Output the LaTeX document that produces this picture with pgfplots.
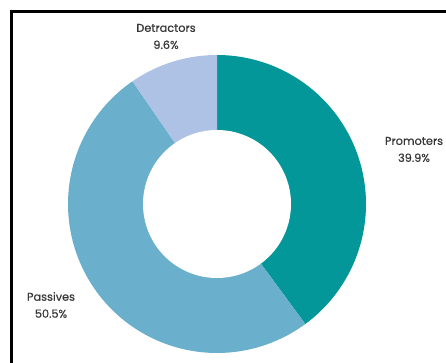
\documentclass[border=0pt]{standalone}
\usepackage{fontspec}
\setmainfont{Poppins}
\newfontfamily\lblfont{Poppins}[FakeBold=0.5]
\usepackage{pgfplots}
\pgfplotsset{compat=1.18}
\definecolor{prom}{RGB}{3,151,153}
\definecolor{pass}{RGB}{106,175,203}
\definecolor{detr}{RGB}{174,194,230}
\definecolor{lbl}{RGB}{55,55,55}
\begin{document}
\begin{tikzpicture}
\useasboundingbox (0,0) rectangle (446pt,363pt);
\pgfmathsetmacro{\vProm}{39.9}
\pgfmathsetmacro{\vPass}{50.5}
\pgfmathsetmacro{\vDetr}{9.6}
\pgfmathsetmacro{\aA}{90}
\pgfmathsetmacro{\aB}{\aA-3.6*\vProm}
\pgfmathsetmacro{\aC}{\aB-3.6*\vPass}
\pgfmathsetmacro{\aD}{\aC-3.6*\vDetr}
\begin{axis}[at={(0,0)},anchor=south west,width=446pt,height=363pt,scale only axis,
  xmin=0,xmax=446,ymin=0,ymax=363,hide axis,clip=false]
\addplot[draw=none,fill=prom,domain=\aB:\aA,samples=90] ({217+149*cos(x)},{159+149*sin(x)}) -- (axis cs:217,159) -- cycle;
\addplot[draw=none,fill=pass,domain=\aC:\aB,samples=110] ({217+149*cos(x)},{159+149*sin(x)}) -- (axis cs:217,159) -- cycle;
\addplot[draw=none,fill=detr,domain=\aD:\aC,samples=30] ({217+149*cos(x)},{159+149*sin(x)}) -- (axis cs:217,159) -- cycle;
\addplot[draw=none,fill=white,domain=0:360,samples=150] ({217+74*cos(x)},{159+74*sin(x)}) -- cycle;
\draw[line width=3.5pt] (axis cs:11.5,-20) |- (axis cs:480,351.5);
\node[align=center,font=\lblfont\fontsize{11.3}{17}\selectfont,text=lbl,inner sep=0pt] at (axis cs:166,326.5) {Detractors\\9.6\%};
\node[align=center,font=\lblfont\fontsize{11.3}{17}\selectfont,text=lbl,inner sep=0pt] at (axis cs:414,213.5) {Promoters\\39.9\%};
\node[align=center,font=\lblfont\fontsize{11.3}{17}\selectfont,text=lbl,inner sep=0pt] at (axis cs:51,58) {Passives\\50.5\%};
\end{axis}
\end{tikzpicture}
\end{document}
